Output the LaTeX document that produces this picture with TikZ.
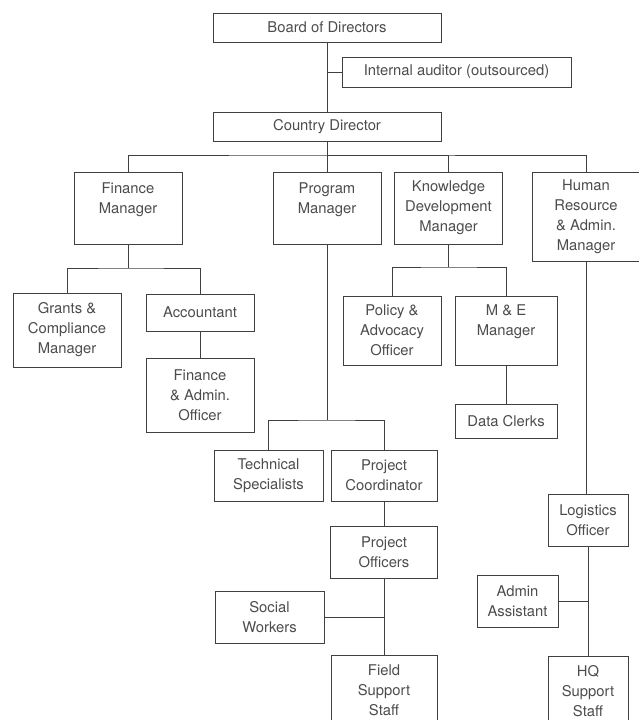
\documentclass[tikz,border=0pt]{standalone}
\usepackage{fontspec}
\setmainfont{TeX Gyre Heros}
\usepackage{xcolor}
\usepackage{tikz}
\usetikzlibrary{positioning}

\begin{document}
\begin{tikzpicture}[
  x=1pt, y=-1pt,
  font=\fontsize{14.8}{20}\selectfont,
  box/.style={draw=black!75, line width=0.9pt, align=center, inner sep=0pt,
              text=black!70, minimum width=108pt},
  link/.style={draw=black!75, line width=0.9pt}
]
  \useasboundingbox (0,0) rectangle (639,720);

  % top of the chart
  \node[box, minimum width=228pt, minimum height=29pt] (board) at (327,27.5) {Board of Directors};
  \node[box, minimum width=229pt, minimum height=30pt] (auditor) at (456.5,72) {Internal auditor (outsourced)};
  \node[box, minimum width=228pt, minimum height=29pt] (country) at (327,126.5) {Country Director};
  \draw[link] (board) -- (country);
  \draw[link] (auditor.west) -- (auditor.west -| board.south);

  % managers
  \node[box, minimum height=72pt] (finmgr) at (128,208) {Finance\\Manager\\\mbox{}};
  \node[box, minimum height=72pt] (progmgr) at (327,208) {Program\\Manager\\\mbox{}};
  \node[box, minimum height=72pt] (kdm) at (448.5,208) {Knowledge\\Development\\Manager};
  \node[box, minimum height=89pt] (hrmgr) at (586,216.5) {Human\\Resource\\\& Admin.\\Manager};
  \coordinate (cbus) at (327,155);
  \draw[link] (country.south) -- (progmgr.north);
  \draw[link] (finmgr.north) |- (cbus) -| (hrmgr.north);
  \draw[link] (cbus) -| (kdm.north);

  % finance branch
  \node[box, minimum height=74pt] (grants) at (67,330) {Grants \&\\Compliance\\Manager};
  \node[box, minimum height=37pt] (accountant) at (200,312.5) {Accountant};
  \node[box, minimum height=74pt] (finadmin) at (200,395) {Finance\\\& Admin.\\Officer};
  \coordinate (fbus) at (128,268);
  \draw[link] (finmgr.south) -- (fbus);
  \draw[link] (grants.north) |- (fbus) -| (accountant.north);
  \draw[link] (accountant) -- (finadmin);

  % knowledge branch
  \node[box, minimum width=98pt, minimum height=69pt] (policy) at (392,330.5) {Policy \&\\Advocacy\\Officer};
  \node[box, minimum width=102pt, minimum height=69pt] (mande) at (506,330.5) {M \& E\\Manager\\\mbox{}};
  \node[box, minimum width=102pt, minimum height=34pt] (clerks) at (506,421) {Data Clerks};
  \coordinate (kbus) at (448.5,267);
  \draw[link] (kdm.south) -- (kbus);
  \draw[link] (policy.north) |- (kbus) -| (mande.north);
  \draw[link] (mande) -- (clerks);

  % program branch
  \node[box, minimum width=109pt, minimum height=51pt] (techspec) at (268.5,475.5) {Technical\\Specialists};
  \node[box, minimum width=106pt, minimum height=51pt] (projcoord) at (384,475.5) {Project\\Coordinator};
  \node[box, minimum width=107pt, minimum height=52pt] (projoff) at (384,552) {Project\\Officers};
  \node[box, minimum width=109pt, minimum height=52pt] (social) at (269.5,617) {Social\\Workers};
  \node[box, minimum width=106pt, minimum height=70pt] (fieldsup) at (384,690.5) {Field\\Support\\Staff};
  \coordinate (pbus) at (327,420);
  \draw[link] (progmgr.south) -- (pbus);
  \draw[link] (techspec.north) |- (pbus) -| (projcoord.north);
  \draw[link] (projcoord) -- (projoff);
  \draw[link] (projoff) -- (fieldsup);
  \draw[link] (social.east) -- (social.east -| projoff.south);

  % HR branch
  \node[box, minimum width=80pt, minimum height=52pt] (logistics) at (588,520) {Logistics\\Officer};
  \node[box, minimum width=81pt, minimum height=52pt] (admin) at (517.5,601) {Admin\\Assistant};
  \node[box, minimum width=80pt, minimum height=70pt] (hq) at (588,691.5) {HQ\\Support\\Staff};
  \draw[link] (hrmgr.south) -- (logistics.north -| hrmgr.south);
  \draw[link] (logistics) -- (hq);
  \draw[link] (admin.east) -- (admin.east -| logistics.south);
\end{tikzpicture}
\end{document}
